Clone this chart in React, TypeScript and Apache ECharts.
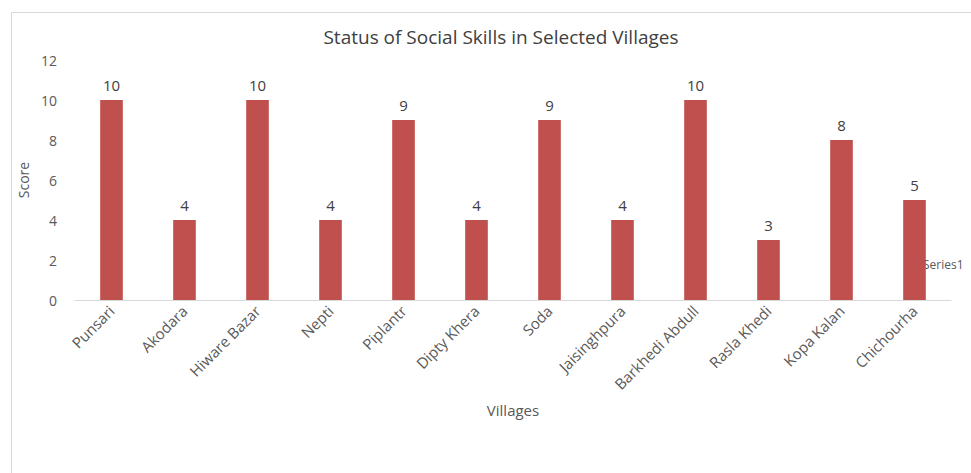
import React, { useEffect, useRef } from "react";
import * as echarts from "echarts";

const villages = [
  "Punsari",
  "Akodara",
  "Hiware Bazar",
  "Nepti",
  "Piplantr",
  "Dipty Khera",
  "Soda",
  "Jaisinghpura",
  "Barkhedi Abdull",
  "Rasla Khedi",
  "Kopa Kalan",
  "Chichourha",
];
const scores = [10, 4, 10, 4, 9, 4, 9, 4, 10, 3, 8, 5];

const FONT = "'Open Sans', 'Noto Sans', sans-serif";

export default function App() {
  const ref = useRef<HTMLDivElement>(null);
  useEffect(() => {
    if (!ref.current) return;
    const chart = echarts.init(ref.current, null, { renderer: "svg" });
    chart.setOption({
      animation: false,
      backgroundColor: "#ffffff",
      title: {
        text: "Status of Social Skills in Selected Villages",
        left: 496,
        textAlign: "center",
        top: 22,
        textStyle: { fontFamily: FONT, fontSize: 19, fontWeight: "normal", color: "#404040" },
      },
      graphic: [
        {
          type: "rect",
          shape: { x: 11.5, y: 12.5, width: 1000, height: 500 },
          style: { fill: "none", stroke: "#d9d9d9", lineWidth: 1 },
          silent: true,
        },
        {
          type: "text",
          left: 923,
          top: 258,
          style: { text: "Series1", fontFamily: FONT, fontSize: 12, fill: "#595959" },
        },
      ],
      grid: { left: 75, right: 20, top: 60, bottom: 173, containLabel: false },
      xAxis: {
        type: "category",
        data: villages,
        name: "Villages",
        nameLocation: "middle",
        nameGap: 102,
        nameTextStyle: { fontFamily: FONT, fontSize: 15, color: "#595959" },
        axisLine: { lineStyle: { color: "#d9d9d9" } },
        axisTick: { show: false },
        axisLabel: {
          rotate: 45,
          interval: 0,
          fontFamily: FONT,
          fontSize: 15,
          color: "#595959",
          margin: 8,
          padding: [16, 0, 0, 0],
        },
      },
      yAxis: {
        type: "value",
        min: 0,
        max: 12,
        interval: 2,
        name: "Score",
        nameLocation: "middle",
        nameGap: 40,
        nameTextStyle: { fontFamily: FONT, fontSize: 14, color: "#595959" },
        axisLine: { show: false },
        axisTick: { show: false },
        splitLine: { show: false },
        axisLabel: { fontFamily: FONT, fontSize: 14, color: "#595959", margin: 18 },
      },
      series: [
        {
          type: "bar",
          data: scores,
          barWidth: "31%",
          itemStyle: { color: "#c0504d" },
          label: {
            show: true,
            position: "top",
            distance: 8,
            fontFamily: FONT,
            fontSize: 15,
            color: "#404040",
          },
        },
      ],
    });
    return () => chart.dispose();
  }, []);
  return (
    <div
      ref={ref}
      style={{ position: "fixed", left: 0, top: 0, width: 971, height: 473 }}
    />
  );
}
